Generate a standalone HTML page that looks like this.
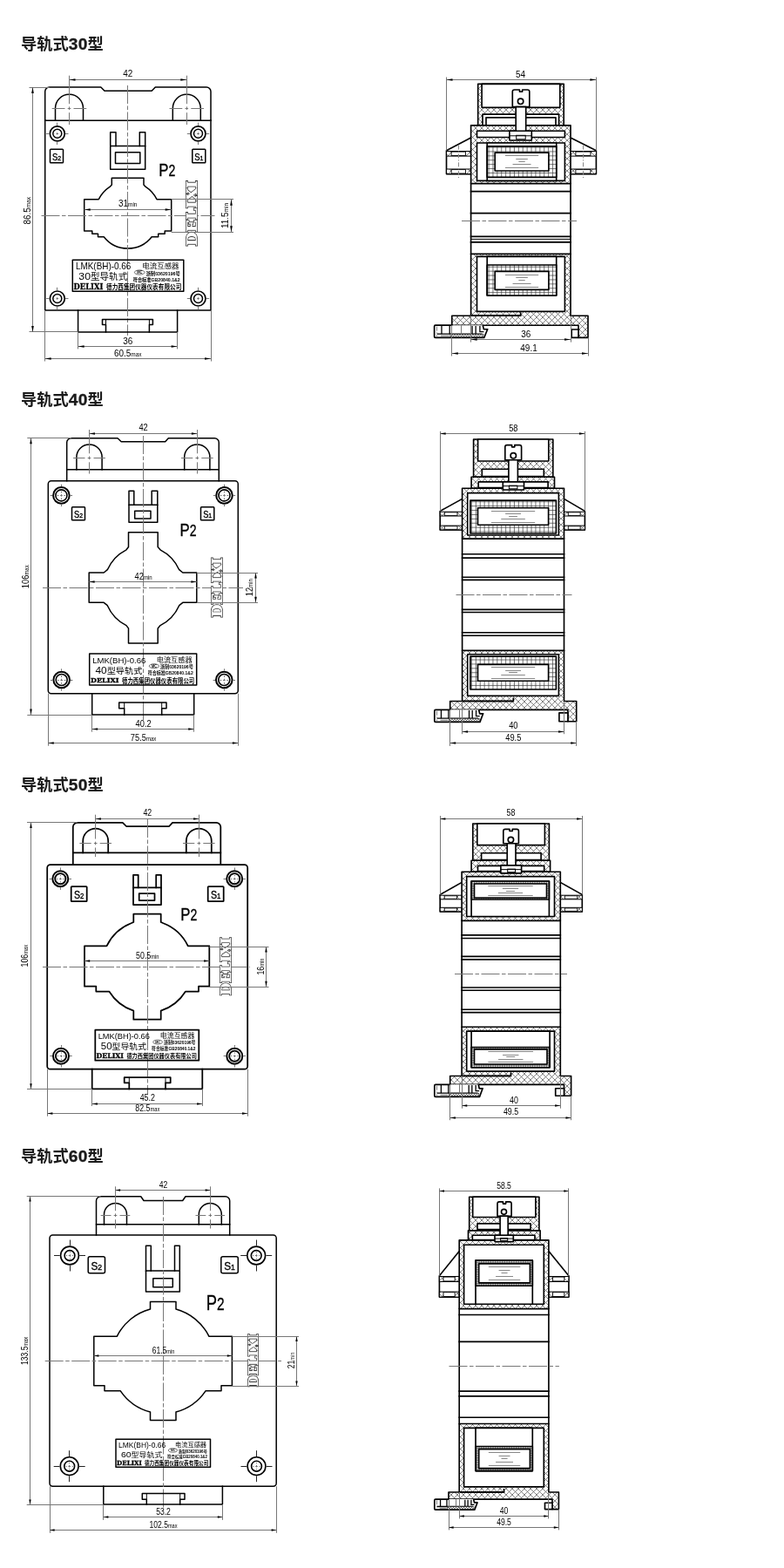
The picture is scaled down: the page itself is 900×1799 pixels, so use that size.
<!DOCTYPE html>
<html lang="zh-CN"><head><meta charset="utf-8"><title>导轨式电流互感器外形尺寸</title>
<style>
html,body{margin:0;padding:0;background:#fff}
body{width:900px;height:1799px;position:relative;overflow:hidden;font-family:"Liberation Sans","Noto Sans CJK SC",sans-serif}
h2{position:absolute;left:23.6px;margin:0;font-size:18.3px;line-height:26px;font-weight:bold;color:#1a1a1a;white-space:nowrap;font-family:"Liberation Sans","Noto Sans CJK SC",sans-serif}
h2 b{font-size:19.2px;font-weight:bold;letter-spacing:.2px;-webkit-text-stroke:.3px #1a1a1a}
svg{position:absolute;left:0;top:0}
svg,h2{will-change:transform}
.k{stroke:#000;stroke-width:1.5;fill:none;stroke-linejoin:round;stroke-linecap:square}
.kw{stroke:#000;stroke-width:1.4;fill:#fff;stroke-linejoin:round}
.kw2{stroke:#000;stroke-width:.9;fill:#fff}
.k2{stroke:#000;stroke-width:1;fill:none}
.k3{stroke:#000;stroke-width:1.3;fill:none}
.sb{stroke:#000;stroke-width:.35}
.m{stroke:#000;stroke-width:1.3;fill:none}
.t{stroke:#777;stroke-width:1;fill:none}
.t3{stroke:#333;stroke-width:.7;fill:none}
.td{stroke:#222;stroke-width:1;fill:none}
.m50 .k{stroke-width:1.75}
.sv .k,.sv .kw{stroke-width:1.65}
.t2{stroke:#888;stroke-width:1;fill:none}
.c{stroke:#777;stroke-width:1;fill:none;stroke-dasharray:21 2.5 4.5 2.5}
.cb{stroke:#111;stroke-width:1.3;fill:none;stroke-dasharray:16 2.5 3.5 2.5}
.c2{stroke:#888;stroke-width:1;fill:none;stroke-dasharray:5 1.8 1.2 1.8}
.a{fill:#000;stroke:none}
text{font-family:"Liberation Sans","Noto Sans CJK SC",sans-serif;fill:#000}
.d{font-weight:normal}
.lb{font-weight:normal}
.lbb{font-weight:bold}
.lbs{stroke:#000;stroke-width:.3;font-family:"DejaVu Serif","Liberation Serif",serif;font-weight:bold}
.ol{font-family:"DejaVu Serif","Liberation Serif",serif;font-weight:bold;fill:#fff;stroke:#555;stroke-width:.8}
.ol1{fill:none;stroke:#3a3a3a;stroke-width:2;stroke-linejoin:miter}
.ol2{fill:#fff;stroke:#fff;stroke-width:.4;stroke-linejoin:miter}
</style></head>
<body>
<h2 style="top:37.6px">导轨式<b>30</b>型</h2>
<h2 style="top:445.6px">导轨式<b>40</b>型</h2>
<h2 style="top:887.6px">导轨式<b>50</b>型</h2>
<h2 style="top:1313.6px">导轨式<b>60</b>型</h2>
<svg width="900" height="1799" viewBox="0 0 900 1799">
<defs>
<pattern id="hx" width="7" height="7" patternUnits="userSpaceOnUse"><rect width="7" height="7" fill="#fff"/><path d="M0 0L7 7M7 0L0 7" stroke="#444" stroke-width=".65" fill="none"/></pattern>
<pattern id="hx2" width="3" height="3" patternUnits="userSpaceOnUse"><rect width="3" height="3" fill="#fff"/><path d="M0 0L3 3M3 0L0 3" stroke="#333" stroke-width=".6" fill="none"/></pattern>
<pattern id="hg" width="4.9" height="4.9" patternUnits="userSpaceOnUse"><rect width="4.9" height="4.9" fill="#fff"/><path d="M0 2.4H4.9M2.4 0V4.9" stroke="#333" stroke-width=".7" fill="none"/></pattern>
<pattern id="hg2" width="1.6" height="1.6" patternUnits="userSpaceOnUse"><rect width="1.6" height="1.6" fill="#fff"/><path d="M0 .4H1.6M.4 0V1.6" stroke="#333" stroke-width=".5" fill="none"/></pattern>
</defs>
<g class="m30">
<path class="k" d="M51.7 138.3L51.7 105A5 5 0 0 1 56.7 100L115.8 100L120 104.2L174.2 104.2L178.3 100L237 100A5 5 0 0 1 242 105L242 138.3"/>
<path class="k" d="M51.7 138.3L51.7 355.5Q51.7 356 52.2 356L241.5 356Q242 356 242 355.5L242 138.3"/>
<path class="k" d="M51.7 138.3L242 138.3"/>
<path class="k" d="M63.5 138.3L63.5 124.3A16 16 0 0 1 95.5 124.3L95.5 138.3"/>
<path class="t" d="M77.7 124.5L81.3 124.5"/>
<path class="t" d="M79.5 122.4L79.5 126"/>
<path class="t" d="M59.7 124.5L74.5 124.5"/>
<path class="t" d="M84.5 124.5L99.3 124.5"/>
<path class="t" d="M79.5 86.7L79.5 119.2"/>
<path class="t" d="M79.5 129.2L79.5 143.1"/>
<path class="k" d="M198.3 138.3L198.3 124.3A16 16 0 0 1 230.3 124.3L230.3 138.3"/>
<path class="t" d="M212.5 124.5L216.1 124.5"/>
<path class="t" d="M214.5 122.4L214.5 126"/>
<path class="t" d="M194.5 124.5L209.3 124.5"/>
<path class="t" d="M219.3 124.5L234.1 124.5"/>
<path class="t" d="M214.5 86.7L214.5 119.2"/>
<path class="t" d="M214.5 129.2L214.5 143.1"/>
<circle class="k" cx="65.8" cy="153.3" r="8.5" style="stroke-width:1.7"/>
<circle class="k" cx="65.8" cy="153.3" r="5" style="stroke-width:1.5"/>
<path class="t" d="M53.1 153.5L56.45 153.5"/>
<path class="t" d="M75.15 153.5L78.5 153.5"/>
<path class="t" d="M65.5 140.6L65.5 143.95"/>
<path class="t" d="M65.5 162.65L65.5 166"/>
<path class="t" d="M62.55 153.5L62.8 153.5"/>
<path class="t" d="M68.8 153.5L69.05 153.5"/>
<path class="t" d="M65.5 150.05L65.5 150.3"/>
<path class="t" d="M65.5 156.3L65.5 156.55"/>
<path class="t" d="M64.5 153.5L67.1 153.5"/>
<path class="t" d="M65.5 152L65.5 154.6"/>
<circle class="k" cx="227.5" cy="153.3" r="8.5" style="stroke-width:1.7"/>
<circle class="k" cx="227.5" cy="153.3" r="5" style="stroke-width:1.5"/>
<path class="t" d="M214.8 153.5L218.15 153.5"/>
<path class="t" d="M236.85 153.5L240.2 153.5"/>
<path class="t" d="M227.5 140.6L227.5 143.95"/>
<path class="t" d="M227.5 162.65L227.5 166"/>
<path class="t" d="M224.25 153.5L224.5 153.5"/>
<path class="t" d="M230.5 153.5L230.75 153.5"/>
<path class="t" d="M227.5 150.05L227.5 150.3"/>
<path class="t" d="M227.5 156.3L227.5 156.55"/>
<path class="t" d="M226.2 153.5L228.8 153.5"/>
<path class="t" d="M227.5 152L227.5 154.6"/>
<circle class="k" cx="65.8" cy="342.5" r="8.5" style="stroke-width:1.7"/>
<circle class="k" cx="65.8" cy="342.5" r="5" style="stroke-width:1.5"/>
<path class="t" d="M53.1 342.5L56.45 342.5"/>
<path class="t" d="M75.15 342.5L78.5 342.5"/>
<path class="t" d="M65.5 329.8L65.5 333.15"/>
<path class="t" d="M65.5 351.85L65.5 355.2"/>
<path class="t" d="M62.55 342.5L62.8 342.5"/>
<path class="t" d="M68.8 342.5L69.05 342.5"/>
<path class="t" d="M65.5 339.25L65.5 339.5"/>
<path class="t" d="M65.5 345.5L65.5 345.75"/>
<path class="t" d="M64.5 342.5L67.1 342.5"/>
<path class="t" d="M65.5 341.2L65.5 343.8"/>
<circle class="k" cx="227.5" cy="342.5" r="8.5" style="stroke-width:1.7"/>
<circle class="k" cx="227.5" cy="342.5" r="5" style="stroke-width:1.5"/>
<path class="t" d="M214.8 342.5L218.15 342.5"/>
<path class="t" d="M236.85 342.5L240.2 342.5"/>
<path class="t" d="M227.5 329.8L227.5 333.15"/>
<path class="t" d="M227.5 351.85L227.5 355.2"/>
<path class="t" d="M224.25 342.5L224.5 342.5"/>
<path class="t" d="M230.5 342.5L230.75 342.5"/>
<path class="t" d="M227.5 339.25L227.5 339.5"/>
<path class="t" d="M227.5 345.5L227.5 345.75"/>
<path class="t" d="M226.2 342.5L228.8 342.5"/>
<path class="t" d="M227.5 341.2L227.5 343.8"/>
<rect class="k" x="57.5" y="171.3" width="15" height="15.4" rx="0.8"/>
<text class="d sb" transform="translate(65 183.62) scale(.88 1)" font-size="10.78" text-anchor="middle">S<tspan font-size="7.98">2</tspan></text>
<rect class="k" x="220.8" y="171.3" width="15" height="15.4" rx="0.8"/>
<text class="d sb" transform="translate(228.3 183.62) scale(.88 1)" font-size="10.78" text-anchor="middle">S<tspan font-size="7.98">1</tspan></text>
<path class="k" d="M126.7 167.5L126.7 151.7L133 151.7L133 167.5M160.3 167.5L160.3 151.7L166.7 151.7L166.7 167.5"/>
<rect class="k" x="126.7" y="167.5" width="40" height="26.7"/>
<rect class="k" x="132.5" y="174.7" width="28.3" height="12.8"/>
<text class="d sb" transform="translate(182.3 201.7) scale(.8 1)" font-size="21">P<tspan font-size="17.64">2</tspan></text>
<path class="k" d="M128.3 204.2H165V212L167 214.2A38 38 0 0 1 180 228.7H196.7V265H189.2V268.3H181.7V271.7H174.2A35 35 0 0 1 119.2 271.7H112.5V268.3H105.8V265H96.7V228.7H113.3A38 38 0 0 1 126.3 214.2L128.3 212Z"/>
<path class="c" d="M146.5 98L146.5 385"/>
<path class="c" d="M47.5 247.5L246.5 247.5"/>
<text class="ol ol1" x="226.5" y="282.3" font-size="17.42" textLength="75.1" lengthAdjust="spacingAndGlyphs" transform="rotate(-90 226.5 282.3)">DELIXI</text>
<text class="ol ol2" x="226.5" y="282.3" font-size="17.42" textLength="75.1" lengthAdjust="spacingAndGlyphs" transform="rotate(-90 226.5 282.3)">DELIXI</text>
<rect class="k" x="83.3" y="298.3" width="127.5" height="35.9"/>
<text class="lb" x="86.9" y="309.3" font-size="10.2" textLength="63.5" lengthAdjust="spacingAndGlyphs">LMK(BH)-0.66</text>
<text class="lb" x="163.2" y="307.9" font-size="8" textLength="42.4" lengthAdjust="spacingAndGlyphs">电流互感器</text>
<text class="lb" x="90.3" y="321.3" font-size="11.4" textLength="55.9" lengthAdjust="spacingAndGlyphs">30<tspan font-size="9.8">型导轨式</tspan></text>
<ellipse class="t3" cx="160.2" cy="312.5" rx="5.8" ry="2.6"/>
<text class="lbb" x="157.2" y="314.2" font-size="4.6" textLength="6.2" lengthAdjust="spacingAndGlyphs">MC</text>
<text class="lbb" x="167.7" y="315.5" font-size="5.6" textLength="39" lengthAdjust="spacingAndGlyphs">浙制03620196号</text>
<text class="lbb" x="152.7" y="322.7" font-size="6" textLength="54" lengthAdjust="spacingAndGlyphs">符合标准GB20840.1&amp;2</text>
<text class="lbs" x="84.6" y="331.7" font-size="8.3" textLength="33.7" lengthAdjust="spacingAndGlyphs">DELIXI</text>
<text class="lbb" x="122" y="331.9" font-size="7.8" textLength="86.3" lengthAdjust="spacingAndGlyphs">德力西集团仪器仪表有限公司</text>
<path class="k" d="M89.6 356L89.6 380.9L203.6 380.9L203.6 356"/>
<path class="k" d="M121.5 380.9L121.5 372.5L117.5 372.5L117.5 366.5L175.4 366.5L175.4 372.5L171.4 372.5L171.4 380.9"/>
<path class="k2" d="M121.5 366.5L121.5 372.5"/>
<path class="k2" d="M171.4 366.5L171.4 372.5"/>
<path class="t" d="M79.5 91.5L214.3 91.5"/>
<path class="a" d="M79.5 91.5L86.5 90.15L86.5 92.85Z"/>
<path class="a" d="M214.3 91.5L207.3 92.85L207.3 90.15Z"/>
<text class="d" font-size="11.6" text-anchor="middle" transform="translate(146.7 88) scale(0.86 1)">42</text>
<path class="t" d="M33.5 100.5L56.7 100.5"/>
<path class="t" d="M33.5 380.5L89.6 380.5"/>
<path class="t" d="M37.5 100L37.5 380.9"/>
<path class="a" d="M37.5 100L38.85 107L36.15 107Z"/>
<path class="a" d="M37.5 380.9L36.15 373.9L38.85 373.9Z"/>
<text class="d" font-size="11.6" text-anchor="middle" transform="translate(34.5 241.7) rotate(-90) scale(0.86 1)">86.5<tspan font-size="7.54">max</tspan></text>
<path class="t" d="M96.7 240.5L196.7 240.5"/>
<path class="a" d="M96.7 240.5L103.7 239.15L103.7 241.85Z"/>
<path class="a" d="M196.7 240.5L189.7 241.85L189.7 239.15Z"/>
<text class="d" font-size="11.6" text-anchor="middle" transform="translate(146.7 237.3) scale(0.86 1)">31<tspan font-size="7.54">min</tspan></text>
<path class="t" d="M196.7 228.5L268 228.5"/>
<path class="t" d="M196.7 266.5L268 266.5"/>
<path class="t" d="M265.5 228.7L265.5 266.3"/>
<path class="a" d="M265.5 228.7L266.85 235.7L264.15 235.7Z"/>
<path class="a" d="M265.5 266.3L264.15 259.3L266.85 259.3Z"/>
<text class="d" font-size="11.6" text-anchor="middle" transform="translate(262.3 247.5) rotate(-90) scale(0.86 1)">11.5<tspan font-size="7.54">min</tspan></text>
<path class="t" d="M89.5 380.9L89.5 400.4"/>
<path class="t" d="M203.5 380.9L203.5 400.4"/>
<path class="t" d="M89.6 397.5L203.6 397.5"/>
<path class="a" d="M89.6 397.5L96.6 396.15L96.6 398.85Z"/>
<path class="a" d="M203.6 397.5L196.6 398.85L196.6 396.15Z"/>
<text class="d" font-size="11.6" text-anchor="middle" transform="translate(146.7 394.6) scale(0.86 1)">36</text>
<path class="t" d="M51.5 356L51.5 414.5"/>
<path class="t" d="M242.5 356L242.5 414.5"/>
<path class="t" d="M51.7 411.5L242 411.5"/>
<path class="a" d="M51.7 411.5L58.7 410.15L58.7 412.85Z"/>
<path class="a" d="M242 411.5L235 412.85L235 410.15Z"/>
<text class="d" font-size="11.6" text-anchor="middle" transform="translate(146.7 408.7) scale(0.86 1)">60.5<tspan font-size="7.54">max</tspan></text>
</g>
<g class="m40">
<path class="k" d="M76.7 551.7L76.7 507.8A5 5 0 0 1 81.7 502.8L135 502.8L139.2 506.7L189.7 506.7L193.3 502.8L246.3 502.8A5 5 0 0 1 251.3 507.8L251.3 551.7"/>
<path class="k" d="M76.7 538.7L251.3 538.7"/>
<rect class="k" x="55.3" y="551.7" width="218" height="244" rx="3.5"/>
<path class="k" d="M87.9 538.7L87.9 524.6A14.6 14.6 0 0 1 117.1 524.6L117.1 538.7"/>
<path class="t" d="M100.7 525.5L104.3 525.5"/>
<path class="t" d="M102.5 523.5L102.5 527.1"/>
<path class="t" d="M84.1 525.5L97.5 525.5"/>
<path class="t" d="M107.5 525.5L120.9 525.5"/>
<path class="t" d="M102.5 493L102.5 520.3"/>
<path class="t" d="M102.5 530.3L102.5 543.5"/>
<path class="k" d="M211.7 538.7L211.7 524.6A14.6 14.6 0 0 1 240.9 524.6L240.9 538.7"/>
<path class="t" d="M224.5 525.5L228.1 525.5"/>
<path class="t" d="M226.5 523.5L226.5 527.1"/>
<path class="t" d="M207.9 525.5L221.3 525.5"/>
<path class="t" d="M231.3 525.5L244.7 525.5"/>
<path class="t" d="M226.5 493L226.5 520.3"/>
<path class="t" d="M226.5 530.3L226.5 543.5"/>
<circle class="k" cx="70.4" cy="568.4" r="9.3" style="stroke-width:2"/>
<circle class="k" cx="70.4" cy="568.4" r="6.5" style="stroke-width:1.6"/>
<path class="t" d="M57.7 568.5L60.1 568.5"/>
<path class="t" d="M80.7 568.5L83.1 568.5"/>
<path class="t" d="M70.5 555.7L70.5 558.1"/>
<path class="t" d="M70.5 578.7L70.5 581.1"/>
<path class="t" d="M65.7 568.5L67.4 568.5"/>
<path class="t" d="M73.4 568.5L75.1 568.5"/>
<path class="t" d="M70.5 563.7L70.5 565.4"/>
<path class="t" d="M70.5 571.4L70.5 573.1"/>
<path class="t" d="M69.1 568.5L71.7 568.5"/>
<path class="t" d="M70.5 567.1L70.5 569.7"/>
<circle class="k" cx="257.5" cy="568.4" r="9.3" style="stroke-width:2"/>
<circle class="k" cx="257.5" cy="568.4" r="6.5" style="stroke-width:1.6"/>
<path class="t" d="M244.8 568.5L247.2 568.5"/>
<path class="t" d="M267.8 568.5L270.2 568.5"/>
<path class="t" d="M257.5 555.7L257.5 558.1"/>
<path class="t" d="M257.5 578.7L257.5 581.1"/>
<path class="t" d="M252.8 568.5L254.5 568.5"/>
<path class="t" d="M260.5 568.5L262.2 568.5"/>
<path class="t" d="M257.5 563.7L257.5 565.4"/>
<path class="t" d="M257.5 571.4L257.5 573.1"/>
<path class="t" d="M256.2 568.5L258.8 568.5"/>
<path class="t" d="M257.5 567.1L257.5 569.7"/>
<circle class="k" cx="70.7" cy="780" r="9.3" style="stroke-width:2"/>
<circle class="k" cx="70.7" cy="780" r="6.5" style="stroke-width:1.6"/>
<path class="t" d="M58 780.5L60.4 780.5"/>
<path class="t" d="M81 780.5L83.4 780.5"/>
<path class="t" d="M70.5 767.3L70.5 769.7"/>
<path class="t" d="M70.5 790.3L70.5 792.7"/>
<path class="t" d="M66 780.5L67.7 780.5"/>
<path class="t" d="M73.7 780.5L75.4 780.5"/>
<path class="t" d="M70.5 775.3L70.5 777"/>
<path class="t" d="M70.5 783L70.5 784.7"/>
<path class="t" d="M69.4 780.5L72 780.5"/>
<path class="t" d="M70.5 778.7L70.5 781.3"/>
<circle class="k" cx="257.3" cy="780" r="9.3" style="stroke-width:2"/>
<circle class="k" cx="257.3" cy="780" r="6.5" style="stroke-width:1.6"/>
<path class="t" d="M244.6 780.5L247 780.5"/>
<path class="t" d="M267.6 780.5L270 780.5"/>
<path class="t" d="M257.5 767.3L257.5 769.7"/>
<path class="t" d="M257.5 790.3L257.5 792.7"/>
<path class="t" d="M252.6 780.5L254.3 780.5"/>
<path class="t" d="M260.3 780.5L262 780.5"/>
<path class="t" d="M257.5 775.3L257.5 777"/>
<path class="t" d="M257.5 783L257.5 784.7"/>
<path class="t" d="M256 780.5L258.6 780.5"/>
<path class="t" d="M257.5 778.7L257.5 781.3"/>
<rect class="k" x="82.5" y="581.7" width="15" height="15" rx="0.8"/>
<text class="d sb" transform="translate(90 593.7) scale(.88 1)" font-size="10.5" text-anchor="middle">S<tspan font-size="7.77">2</tspan></text>
<rect class="k" x="230.5" y="581.7" width="15.3" height="15" rx="0.8"/>
<text class="d sb" transform="translate(238.15 593.7) scale(.88 1)" font-size="10.5" text-anchor="middle">S<tspan font-size="7.77">1</tspan></text>
<path class="k" d="M148 579.2L148 563.3L153.8 563.3L153.8 579.2M174.2 579.2L174.2 563.3L180.8 563.3L180.8 579.2"/>
<rect class="k" x="148" y="579.2" width="32.8" height="20"/>
<rect class="k" x="154.7" y="586.3" width="18.3" height="8.7"/>
<text class="d sb" transform="translate(206.5 615) scale(.8 1)" font-size="21">P<tspan font-size="17.64">2</tspan></text>
<path class="k" d="M147.5 610.8V627.5L145 630.8A47 47 0 0 0 123.3 653.7L119.2 657H102.2V691.3H119.2L123.3 694.7A47 47 0 0 0 145 717.6L147.5 720.9V738H181.2V720.9L184 717.6A47 47 0 0 0 205.7 694.7L209.8 691.3H225.8V657H209.8L205.7 653.7A47 47 0 0 0 184 630.8L181.2 627.5V610.8Z"/>
<path class="c" d="M164.5 500L164.5 828"/>
<path class="c" d="M49 674.5L279 674.5"/>
<text class="ol ol1" x="254.8" y="708.2" font-size="16.87" textLength="68.5" lengthAdjust="spacingAndGlyphs" transform="rotate(-90 254.8 708.2)">DELIXI</text>
<text class="ol ol2" x="254.8" y="708.2" font-size="16.87" textLength="68.5" lengthAdjust="spacingAndGlyphs" transform="rotate(-90 254.8 708.2)">DELIXI</text>
<rect class="k" x="102.7" y="750" width="123" height="36"/>
<text class="lb" x="106.17" y="761.03" font-size="9.84" textLength="61.26" lengthAdjust="spacingAndGlyphs">LMK(BH)-0.66</text>
<text class="lb" x="179.78" y="759.63" font-size="7.72" textLength="40.9" lengthAdjust="spacingAndGlyphs">电流互感器</text>
<text class="lb" x="109.45" y="773.06" font-size="11" textLength="53.93" lengthAdjust="spacingAndGlyphs">40<tspan font-size="9.45">型导轨式</tspan></text>
<ellipse class="t3" cx="176.89" cy="764.24" rx="5.6" ry="2.51"/>
<text class="lbb" x="173.99" y="765.94" font-size="4.44" textLength="5.98" lengthAdjust="spacingAndGlyphs">MC</text>
<text class="lbb" x="184.12" y="767.25" font-size="5.4" textLength="37.62" lengthAdjust="spacingAndGlyphs">浙制03620196号</text>
<text class="lbb" x="169.65" y="774.47" font-size="5.79" textLength="52.09" lengthAdjust="spacingAndGlyphs">符合标准GB20840.1&amp;2</text>
<text class="lbs" x="103.95" y="783.49" font-size="8.01" textLength="32.51" lengthAdjust="spacingAndGlyphs">DELIXI</text>
<text class="lbb" x="140.03" y="783.69" font-size="7.52" textLength="83.25" lengthAdjust="spacingAndGlyphs">德力西集团仪器仪表有限公司</text>
<path class="k" d="M105.7 795.7L105.7 820L222.7 820L222.7 795.7"/>
<path class="k" d="M142.7 820L142.7 812.7L136.7 812.7L136.7 806L191 806L191 812.7L185.7 812.7L185.7 820"/>
<path class="k2" d="M142.7 806L142.7 812.7"/>
<path class="k2" d="M185.7 806L185.7 812.7"/>
<path class="t" d="M102.5 497.5L226.3 497.5"/>
<path class="a" d="M102.5 497.5L108.94 496.2L108.94 498.8Z"/>
<path class="a" d="M226.3 497.5L219.86 498.8L219.86 496.2Z"/>
<text class="d" font-size="10.8" text-anchor="middle" transform="translate(164.6 494.3) scale(0.86 1)">42</text>
<path class="t" d="M31.3 502.5L81.7 502.5"/>
<path class="t" d="M31.3 820.5L105.7 820.5"/>
<path class="t" d="M35.5 502.8L35.5 820"/>
<path class="a" d="M35.5 502.8L36.8 509.24L34.2 509.24Z"/>
<path class="a" d="M35.5 820L34.2 813.56L36.8 813.56Z"/>
<text class="d" font-size="10.8" text-anchor="middle" transform="translate(32.5 661.7) rotate(-90) scale(0.86 1)">106<tspan font-size="7.02">max</tspan></text>
<path class="t" d="M102.2 667.5L225.8 667.5"/>
<path class="a" d="M102.2 667.5L108.64 666.2L108.64 668.8Z"/>
<path class="a" d="M225.8 667.5L219.36 668.8L219.36 666.2Z"/>
<text class="d" font-size="10.8" text-anchor="middle" transform="translate(164.6 664.5) scale(0.86 1)">42<tspan font-size="7.02">min</tspan></text>
<path class="t" d="M225.8 657.5L296 657.5"/>
<path class="t" d="M225.8 691.5L296 691.5"/>
<path class="t" d="M293.5 657L293.5 691.3"/>
<path class="a" d="M293.5 657L294.8 663.44L292.2 663.44Z"/>
<path class="a" d="M293.5 691.3L292.2 684.86L294.8 684.86Z"/>
<text class="d" font-size="10.8" text-anchor="middle" transform="translate(290 674.2) rotate(-90) scale(0.86 1)">12<tspan font-size="7.02">min</tspan></text>
<path class="t" d="M105.5 820L105.5 839.7"/>
<path class="t" d="M222.5 820L222.5 839.7"/>
<path class="t" d="M105.7 836.5L222.7 836.5"/>
<path class="a" d="M105.7 836.5L112.14 835.2L112.14 837.8Z"/>
<path class="a" d="M222.7 836.5L216.26 837.8L216.26 835.2Z"/>
<text class="d" font-size="10.8" text-anchor="middle" transform="translate(164.6 833.9) scale(0.86 1)">40.2</text>
<path class="t" d="M55.5 795.7L55.5 855.7"/>
<path class="t" d="M273.5 795.7L273.5 855.7"/>
<path class="t" d="M55.3 852.5L273.3 852.5"/>
<path class="a" d="M55.3 852.5L61.74 851.2L61.74 853.8Z"/>
<path class="a" d="M273.3 852.5L266.86 853.8L266.86 851.2Z"/>
<text class="d" font-size="10.8" text-anchor="middle" transform="translate(164.6 849.9) scale(0.86 1)">75.5<tspan font-size="7.02">max</tspan></text>
</g>
<g class="m50">
<path class="k" d="M83.8 992.2L83.8 948.8A5 5 0 0 1 88.8 943.8L140.8 943.8L145 948L194.2 948L198 943.8L248.3 943.8A5 5 0 0 1 253.3 948.8L253.3 992.2"/>
<path class="k" d="M83.8 978.3L253.3 978.3"/>
<rect class="k" x="54.2" y="992.2" width="230" height="234.5" rx="3.5"/>
<path class="k" d="M95.2 978.3L95.2 965A14.5 14.5 0 0 1 124.2 965L124.2 978.3"/>
<path class="t" d="M107.9 967.5L111.5 967.5"/>
<path class="t" d="M109.5 965.7L109.5 969.3"/>
<path class="t" d="M91.4 967.5L104.7 967.5"/>
<path class="t" d="M114.7 967.5L128 967.5"/>
<path class="t" d="M109.5 934.7L109.5 962.5"/>
<path class="t" d="M109.5 972.5L109.5 983.1"/>
<path class="k" d="M213.8 978.3L213.8 965A14.5 14.5 0 0 1 242.8 965L242.8 978.3"/>
<path class="t" d="M226.5 967.5L230.1 967.5"/>
<path class="t" d="M228.5 965.7L228.5 969.3"/>
<path class="t" d="M210 967.5L223.3 967.5"/>
<path class="t" d="M233.3 967.5L246.6 967.5"/>
<path class="t" d="M228.5 934.7L228.5 962.5"/>
<path class="t" d="M228.5 972.5L228.5 983.1"/>
<circle class="k" cx="69.3" cy="1008.2" r="9" style="stroke-width:2"/>
<circle class="k" cx="69.3" cy="1008.2" r="6.1" style="stroke-width:1.9"/>
<path class="t" d="M56.6 1008.5L59.3 1008.5"/>
<path class="t" d="M79.3 1008.5L82 1008.5"/>
<path class="t" d="M69.5 995.5L69.5 998.2"/>
<path class="t" d="M69.5 1018.2L69.5 1020.9"/>
<path class="t" d="M65.15 1008.5L66.3 1008.5"/>
<path class="t" d="M72.3 1008.5L73.45 1008.5"/>
<path class="t" d="M69.5 1004.05L69.5 1005.2"/>
<path class="t" d="M69.5 1011.2L69.5 1012.35"/>
<path class="t" d="M68 1008.5L70.6 1008.5"/>
<path class="t" d="M69.5 1006.9L69.5 1009.5"/>
<circle class="k" cx="269.2" cy="1008.2" r="9" style="stroke-width:2"/>
<circle class="k" cx="269.2" cy="1008.2" r="6.1" style="stroke-width:1.9"/>
<path class="t" d="M256.5 1008.5L259.2 1008.5"/>
<path class="t" d="M279.2 1008.5L281.9 1008.5"/>
<path class="t" d="M269.5 995.5L269.5 998.2"/>
<path class="t" d="M269.5 1018.2L269.5 1020.9"/>
<path class="t" d="M265.05 1008.5L266.2 1008.5"/>
<path class="t" d="M272.2 1008.5L273.35 1008.5"/>
<path class="t" d="M269.5 1004.05L269.5 1005.2"/>
<path class="t" d="M269.5 1011.2L269.5 1012.35"/>
<path class="t" d="M267.9 1008.5L270.5 1008.5"/>
<path class="t" d="M269.5 1006.9L269.5 1009.5"/>
<circle class="k" cx="70" cy="1211.7" r="9" style="stroke-width:2"/>
<circle class="k" cx="70" cy="1211.7" r="6.1" style="stroke-width:1.9"/>
<path class="t" d="M57.3 1211.5L60 1211.5"/>
<path class="t" d="M80 1211.5L82.7 1211.5"/>
<path class="t" d="M70.5 1199L70.5 1201.7"/>
<path class="t" d="M70.5 1221.7L70.5 1224.4"/>
<path class="t" d="M65.85 1211.5L67 1211.5"/>
<path class="t" d="M73 1211.5L74.15 1211.5"/>
<path class="t" d="M70.5 1207.55L70.5 1208.7"/>
<path class="t" d="M70.5 1214.7L70.5 1215.85"/>
<path class="t" d="M68.7 1211.5L71.3 1211.5"/>
<path class="t" d="M70.5 1210.4L70.5 1213"/>
<circle class="k" cx="269.3" cy="1211.7" r="9" style="stroke-width:2"/>
<circle class="k" cx="269.3" cy="1211.7" r="6.1" style="stroke-width:1.9"/>
<path class="t" d="M256.6 1211.5L259.3 1211.5"/>
<path class="t" d="M279.3 1211.5L282 1211.5"/>
<path class="t" d="M269.5 1199L269.5 1201.7"/>
<path class="t" d="M269.5 1221.7L269.5 1224.4"/>
<path class="t" d="M265.15 1211.5L266.3 1211.5"/>
<path class="t" d="M272.3 1211.5L273.45 1211.5"/>
<path class="t" d="M269.5 1207.55L269.5 1208.7"/>
<path class="t" d="M269.5 1214.7L269.5 1215.85"/>
<path class="t" d="M268 1211.5L270.6 1211.5"/>
<path class="t" d="M269.5 1210.4L269.5 1213"/>
<rect class="k" x="81.7" y="1017" width="18" height="17.2" rx="0.8"/>
<text class="d sb" transform="translate(90.7 1030.76) scale(.88 1)" font-size="12.04" text-anchor="middle">S<tspan font-size="8.91">2</tspan></text>
<rect class="k" x="238.7" y="1017" width="18" height="17.2" rx="0.8"/>
<text class="d sb" transform="translate(247.7 1030.76) scale(.88 1)" font-size="12.04" text-anchor="middle">S<tspan font-size="8.91">1</tspan></text>
<path class="k" d="M153 1018.3L153 1003.8L158.7 1003.8L158.7 1018.3M179.2 1018.3L179.2 1003.8L185 1003.8L185 1018.3"/>
<rect class="k" x="153" y="1018.3" width="32" height="19.7"/>
<rect class="k" x="159.7" y="1025" width="17.8" height="8"/>
<text class="d sb" transform="translate(207.3 1056.3) scale(.8 1)" font-size="21">P<tspan font-size="17.64">2</tspan></text>
<path class="k" d="M153.3 1048.7V1058L150.5 1059.3A53 53 0 0 0 122.5 1085.3H97V1131.7H110.3V1137.5H125.3A53 53 0 0 0 153.3 1159.7V1169.7H184.7V1159.7A53 53 0 0 0 213 1137.5H228V1131.7H240.3V1085.3H215.8A53 53 0 0 0 187.5 1059.3L184.7 1058V1048.7Z"/>
<path class="c" d="M169.5 940L169.5 1256"/>
<path class="c" d="M49 1109.5L286.7 1109.5"/>
<text class="ol ol1" x="265.3" y="1142" font-size="15.78" textLength="66.5" lengthAdjust="spacingAndGlyphs" transform="rotate(-90 265.3 1142)">DELIXI</text>
<text class="ol ol2" x="265.3" y="1142" font-size="15.78" textLength="66.5" lengthAdjust="spacingAndGlyphs" transform="rotate(-90 265.3 1142)">DELIXI</text>
<rect class="k" x="109.3" y="1181.7" width="119" height="35"/>
<text class="lb" x="112.66" y="1192.42" font-size="9.52" textLength="59.27" lengthAdjust="spacingAndGlyphs">LMK(BH)-0.66</text>
<text class="lb" x="183.87" y="1191.06" font-size="7.47" textLength="39.57" lengthAdjust="spacingAndGlyphs">电流互感器</text>
<text class="lb" x="115.83" y="1204.12" font-size="10.64" textLength="52.17" lengthAdjust="spacingAndGlyphs">50<tspan font-size="9.15">型导轨式</tspan></text>
<ellipse class="t3" cx="181.07" cy="1195.54" rx="5.41" ry="2.43"/>
<text class="lbb" x="178.27" y="1197.2" font-size="4.29" textLength="5.79" lengthAdjust="spacingAndGlyphs">MC</text>
<text class="lbb" x="188.07" y="1198.47" font-size="5.23" textLength="36.4" lengthAdjust="spacingAndGlyphs">浙制03620196号</text>
<text class="lbb" x="174.07" y="1205.49" font-size="5.6" textLength="50.4" lengthAdjust="spacingAndGlyphs">符合标准GB20840.1&amp;2</text>
<text class="lbs" x="110.51" y="1214.26" font-size="7.75" textLength="31.45" lengthAdjust="spacingAndGlyphs">DELIXI</text>
<text class="lbb" x="145.42" y="1214.46" font-size="7.28" textLength="80.55" lengthAdjust="spacingAndGlyphs">德力西集团仪器仪表有限公司</text>
<path class="k" d="M105.7 1226.7L105.7 1249.3L232.3 1249.3L232.3 1226.7"/>
<path class="k" d="M148.3 1249.3L148.3 1242.3L142.7 1242.3L142.7 1236L195.7 1236L195.7 1242.3L190 1242.3L190 1249.3"/>
<path class="k2" d="M148.3 1236L148.3 1242.3"/>
<path class="k2" d="M190 1236L190 1242.3"/>
<path class="t" d="M109.7 939.5L228.3 939.5"/>
<path class="a" d="M109.7 939.5L115.86 938.23L115.86 940.77Z"/>
<path class="a" d="M228.3 939.5L222.14 940.77L222.14 938.23Z"/>
<text class="d" font-size="10.3" text-anchor="middle" transform="translate(169.3 936) scale(0.86 1)">42</text>
<path class="t" d="M31 943.5L88.8 943.5"/>
<path class="t" d="M31 1249.5L105.7 1249.5"/>
<path class="t" d="M35.5 943.8L35.5 1249.3"/>
<path class="a" d="M35.5 943.8L36.77 949.96L34.23 949.96Z"/>
<path class="a" d="M35.5 1249.3L34.23 1243.14L36.77 1243.14Z"/>
<text class="d" font-size="10.3" text-anchor="middle" transform="translate(32 1096.7) rotate(-90) scale(0.86 1)">106<tspan font-size="6.7">max</tspan></text>
<path class="t" d="M97 1102.5L240.3 1102.5"/>
<path class="a" d="M97 1102.5L103.16 1101.23L103.16 1103.77Z"/>
<path class="a" d="M240.3 1102.5L234.14 1103.77L234.14 1101.23Z"/>
<text class="d" font-size="10.3" text-anchor="middle" transform="translate(169.3 1099.5) scale(0.86 1)">50.5<tspan font-size="6.7">min</tspan></text>
<path class="t" d="M240.3 1086.5L308.5 1086.5"/>
<path class="t" d="M240.3 1132.5L308.5 1132.5"/>
<path class="t" d="M305.5 1086.3L305.5 1132"/>
<path class="a" d="M305.5 1086.3L306.77 1092.46L304.23 1092.46Z"/>
<path class="a" d="M305.5 1132L304.23 1125.84L306.77 1125.84Z"/>
<text class="d" font-size="10.3" text-anchor="middle" transform="translate(302.5 1109) rotate(-90) scale(0.86 1)">16<tspan font-size="6.7">min</tspan></text>
<path class="t" d="M105.5 1249.3L105.5 1269"/>
<path class="t" d="M232.5 1249.3L232.5 1269"/>
<path class="t" d="M105.7 1266.5L232.3 1266.5"/>
<path class="a" d="M105.7 1266.5L111.86 1265.23L111.86 1267.77Z"/>
<path class="a" d="M232.3 1266.5L226.14 1267.77L226.14 1265.23Z"/>
<text class="d" font-size="10.3" text-anchor="middle" transform="translate(169.3 1263.2) scale(0.86 1)">45.2</text>
<path class="t" d="M54.5 1226.7L54.5 1280.7"/>
<path class="t" d="M284.5 1226.7L284.5 1280.7"/>
<path class="t" d="M54.2 1277.5L284.2 1277.5"/>
<path class="a" d="M54.2 1277.5L60.36 1276.23L60.36 1278.77Z"/>
<path class="a" d="M284.2 1277.5L278.04 1278.77L278.04 1276.23Z"/>
<text class="d" font-size="10.3" text-anchor="middle" transform="translate(169.3 1274.9) scale(0.86 1)">82.5<tspan font-size="6.7">max</tspan></text>
</g>
<g class="m60">
<path class="k" d="M110.5 1417L110.5 1377.8A5 5 0 0 1 115.5 1372.8L161.7 1372.8L165 1377.5L209.7 1377.5L213 1372.8L258.7 1372.8A5 5 0 0 1 263.7 1377.8L263.7 1417"/>
<path class="k" d="M110.5 1404.7L263.7 1404.7"/>
<rect class="k" x="57" y="1417" width="260.2" height="288.3" rx="3.5"/>
<path class="k" d="M119.5 1404.7L119.5 1393.5A13 13 0 0 1 145.5 1393.5L145.5 1404.7"/>
<path class="t" d="M130.7 1394.5L134.3 1394.5"/>
<path class="t" d="M132.5 1392.4L132.5 1396"/>
<path class="t" d="M115.7 1394.5L127.5 1394.5"/>
<path class="t" d="M137.5 1394.5L149.3 1394.5"/>
<path class="t" d="M132.5 1361.3L132.5 1389.2"/>
<path class="t" d="M132.5 1399.2L132.5 1409.5"/>
<path class="k" d="M228.3 1404.7L228.3 1393.5A13 13 0 0 1 254.3 1393.5L254.3 1404.7"/>
<path class="t" d="M239.5 1394.5L243.1 1394.5"/>
<path class="t" d="M241.5 1392.4L241.5 1396"/>
<path class="t" d="M224.5 1394.5L236.3 1394.5"/>
<path class="t" d="M246.3 1394.5L258.1 1394.5"/>
<path class="t" d="M241.5 1361.3L241.5 1389.2"/>
<path class="t" d="M241.5 1399.2L241.5 1409.5"/>
<circle class="k" cx="80" cy="1440.5" r="10.4" style="stroke-width:1.6"/>
<circle class="k" cx="80" cy="1440.5" r="5.9" style="stroke-width:1.6"/>
<path class="td" d="M62 1440.5L68.8 1440.5"/>
<path class="td" d="M91.2 1440.5L98 1440.5"/>
<path class="td" d="M80.5 1422.5L80.5 1429.3"/>
<path class="td" d="M80.5 1451.7L80.5 1458.5"/>
<path class="t" d="M75.9 1440.5L77 1440.5"/>
<path class="t" d="M83 1440.5L84.1 1440.5"/>
<path class="t" d="M80.5 1436.4L80.5 1437.5"/>
<path class="t" d="M80.5 1443.5L80.5 1444.6"/>
<path class="t" d="M78.7 1440.5L81.3 1440.5"/>
<path class="t" d="M80.5 1439.2L80.5 1441.8"/>
<circle class="k" cx="294.2" cy="1440.5" r="10.4" style="stroke-width:1.6"/>
<circle class="k" cx="294.2" cy="1440.5" r="5.9" style="stroke-width:1.6"/>
<path class="td" d="M276.2 1440.5L283 1440.5"/>
<path class="td" d="M305.4 1440.5L312.2 1440.5"/>
<path class="td" d="M294.5 1422.5L294.5 1429.3"/>
<path class="td" d="M294.5 1451.7L294.5 1458.5"/>
<path class="t" d="M290.1 1440.5L291.2 1440.5"/>
<path class="t" d="M297.2 1440.5L298.3 1440.5"/>
<path class="t" d="M294.5 1436.4L294.5 1437.5"/>
<path class="t" d="M294.5 1443.5L294.5 1444.6"/>
<path class="t" d="M292.9 1440.5L295.5 1440.5"/>
<path class="t" d="M294.5 1439.2L294.5 1441.8"/>
<circle class="k" cx="79.7" cy="1682.2" r="10.4" style="stroke-width:1.6"/>
<circle class="k" cx="79.7" cy="1682.2" r="5.9" style="stroke-width:1.6"/>
<path class="td" d="M61.7 1682.5L68.5 1682.5"/>
<path class="td" d="M90.9 1682.5L97.7 1682.5"/>
<path class="td" d="M79.5 1664.2L79.5 1671"/>
<path class="td" d="M79.5 1693.4L79.5 1700.2"/>
<path class="t" d="M75.6 1682.5L76.7 1682.5"/>
<path class="t" d="M82.7 1682.5L83.8 1682.5"/>
<path class="t" d="M79.5 1678.1L79.5 1679.2"/>
<path class="t" d="M79.5 1685.2L79.5 1686.3"/>
<path class="t" d="M78.4 1682.5L81 1682.5"/>
<path class="t" d="M79.5 1680.9L79.5 1683.5"/>
<circle class="k" cx="294.5" cy="1682.2" r="10.4" style="stroke-width:1.6"/>
<circle class="k" cx="294.5" cy="1682.2" r="5.9" style="stroke-width:1.6"/>
<path class="td" d="M276.5 1682.5L283.3 1682.5"/>
<path class="td" d="M305.7 1682.5L312.5 1682.5"/>
<path class="td" d="M294.5 1664.2L294.5 1671"/>
<path class="td" d="M294.5 1693.4L294.5 1700.2"/>
<path class="t" d="M290.4 1682.5L291.5 1682.5"/>
<path class="t" d="M297.5 1682.5L298.6 1682.5"/>
<path class="t" d="M294.5 1678.1L294.5 1679.2"/>
<path class="t" d="M294.5 1685.2L294.5 1686.3"/>
<path class="t" d="M293.2 1682.5L295.8 1682.5"/>
<path class="t" d="M294.5 1680.9L294.5 1683.5"/>
<rect class="k" x="101.2" y="1441.7" width="19.3" height="19.1" rx="2"/>
<text class="d sb" transform="translate(110.85 1456.98) scale(.88 1)" font-size="13.37" text-anchor="middle">S<tspan font-size="9.89">2</tspan></text>
<rect class="k" x="253.8" y="1441.7" width="19.5" height="19.1" rx="2"/>
<text class="d sb" transform="translate(263.55 1456.98) scale(.88 1)" font-size="13.37" text-anchor="middle">S<tspan font-size="9.89">1</tspan></text>
<path class="k" d="M167.5 1458L167.5 1429.2L173.3 1429.2L173.3 1458M200.5 1458L200.5 1429.2L206.3 1429.2L206.3 1458"/>
<rect class="k" x="167.5" y="1458" width="38.8" height="24"/>
<rect class="k" x="175.8" y="1466.7" width="22.5" height="10"/>
<text class="d sb" transform="translate(236.8 1502.6) scale(.8 1)" font-size="23">P<tspan font-size="19.32">2</tspan></text>
<path class="k" d="M172.5 1493.6V1502A60 60 0 0 0 134.2 1533.3H107.8V1589.7H120V1595.8H138.3A60 60 0 0 0 172.5 1620V1629.4H202V1620A60 60 0 0 0 236 1595.8H254V1589.7H266.4V1533.3H240A60 60 0 0 0 202 1502V1493.6Z"/>
<path class="c" d="M187.5 1373L187.5 1733"/>
<path class="c" d="M51.7 1561.5L323 1561.5"/>
<text class="ol ol1" x="295.9" y="1591.1" font-size="15.09" textLength="60.6" lengthAdjust="spacingAndGlyphs" transform="rotate(-90 295.9 1591.1)">DELIXI</text>
<text class="ol ol2" x="295.9" y="1591.1" font-size="15.09" textLength="60.6" lengthAdjust="spacingAndGlyphs" transform="rotate(-90 295.9 1591.1)">DELIXI</text>
<rect class="k" x="133" y="1651.3" width="108.5" height="32"/>
<text class="lb" x="136.06" y="1661.11" font-size="8.68" textLength="54.04" lengthAdjust="spacingAndGlyphs">LMK(BH)-0.66</text>
<text class="lb" x="200.99" y="1659.86" font-size="6.81" textLength="36.08" lengthAdjust="spacingAndGlyphs">电流互感器</text>
<text class="lb" x="138.96" y="1671.8" font-size="9.7" textLength="47.57" lengthAdjust="spacingAndGlyphs">60<tspan font-size="8.34">型导轨式</tspan></text>
<ellipse class="t3" cx="198.44" cy="1663.96" rx="4.94" ry="2.21"/>
<text class="lbb" x="195.89" y="1665.47" font-size="3.91" textLength="5.28" lengthAdjust="spacingAndGlyphs">MC</text>
<text class="lbb" x="204.82" y="1666.63" font-size="4.77" textLength="33.19" lengthAdjust="spacingAndGlyphs">浙制03620196号</text>
<text class="lbb" x="192.06" y="1673.05" font-size="5.11" textLength="45.95" lengthAdjust="spacingAndGlyphs">符合标准GB20840.1&amp;2</text>
<text class="lbs" x="134.11" y="1681.07" font-size="7.06" textLength="28.68" lengthAdjust="spacingAndGlyphs">DELIXI</text>
<text class="lbb" x="165.93" y="1681.25" font-size="6.64" textLength="73.44" lengthAdjust="spacingAndGlyphs">德力西集团仪器仪表有限公司</text>
<path class="k" d="M118.8 1705.3L118.8 1726L255.4 1726L255.4 1705.3"/>
<path class="k" d="M168.3 1726L168.3 1720.3L163.3 1720.3L163.3 1713.5L212 1713.5L212 1720.3L206.7 1720.3L206.7 1726"/>
<path class="k2" d="M168.3 1713.5L168.3 1720.3"/>
<path class="k2" d="M206.7 1713.5L206.7 1720.3"/>
<path class="t" d="M132.5 1365.5L241.3 1365.5"/>
<path class="a" d="M132.5 1365.5L138.1 1364.29L138.1 1366.71Z"/>
<path class="a" d="M241.3 1365.5L235.7 1366.71L235.7 1364.29Z"/>
<text class="d" font-size="10" text-anchor="middle" transform="translate(187.5 1362.6) scale(0.86 1)">42</text>
<path class="t" d="M30.7 1372.5L115.5 1372.5"/>
<path class="t" d="M30.7 1726.5L118.8 1726.5"/>
<path class="t" d="M34.5 1372.8L34.5 1726"/>
<path class="a" d="M34.5 1372.8L35.72 1378.4L33.28 1378.4Z"/>
<path class="a" d="M34.5 1726L33.28 1720.4L35.72 1720.4Z"/>
<text class="d" font-size="10" text-anchor="middle" transform="translate(32 1550) rotate(-90) scale(0.86 1)">133.5<tspan font-size="6.5">max</tspan></text>
<path class="t" d="M107.8 1555.5L266.4 1555.5"/>
<path class="a" d="M107.8 1555.5L113.4 1554.29L113.4 1556.71Z"/>
<path class="a" d="M266.4 1555.5L260.8 1556.71L260.8 1554.29Z"/>
<text class="d" font-size="10" text-anchor="middle" transform="translate(187.5 1552.6) scale(0.86 1)">61.5<tspan font-size="6.5">min</tspan></text>
<path class="t" d="M266.4 1533.5L343 1533.5"/>
<path class="t" d="M266.4 1590.5L343 1590.5"/>
<path class="t" d="M340.5 1533.3L340.5 1590"/>
<path class="a" d="M340.5 1533.3L341.71 1538.9L339.29 1538.9Z"/>
<path class="a" d="M340.5 1590L339.29 1584.4L341.71 1584.4Z"/>
<text class="d" font-size="10" text-anchor="middle" transform="translate(337.5 1561) rotate(-90) scale(0.86 1)">21<tspan font-size="6.5">min</tspan></text>
<path class="t" d="M118.5 1726L118.5 1743.9"/>
<path class="t" d="M255.5 1726L255.5 1743.9"/>
<path class="t" d="M118.8 1740.5L255.4 1740.5"/>
<path class="a" d="M118.8 1740.5L124.4 1739.29L124.4 1741.71Z"/>
<path class="a" d="M255.4 1740.5L249.8 1741.71L249.8 1739.29Z"/>
<text class="d" font-size="10" text-anchor="middle" transform="translate(187.5 1738.1) scale(0.86 1)">53.2</text>
<path class="t" d="M57.5 1705.3L57.5 1758.8"/>
<path class="t" d="M317.5 1705.3L317.5 1758.8"/>
<path class="t" d="M57 1755.5L317.2 1755.5"/>
<path class="a" d="M57 1755.5L62.6 1754.29L62.6 1756.71Z"/>
<path class="a" d="M317.2 1755.5L311.6 1756.71L311.6 1754.29Z"/>
<text class="d" font-size="10" text-anchor="middle" transform="translate(187.5 1753) scale(0.86 1)">102.5<tspan font-size="6.5">max</tspan></text>
</g>
<g class="sv s30">
<path class="k" d="M540.6 210.6L540.6 291.3"/>
<path class="k" d="M655 210.6L655 291.3"/>
<path class="k" d="M540.6 219.6L655 219.6"/>
<path class="k" d="M540.6 244.6L655 244.6"/>
<path class="k" d="M540.6 271.3L655 271.3"/>
<path class="k2" d="M540.6 274.4L655 274.4"/>
<path class="k" d="M540.6 277.9L655 277.9"/>
<path class="c" d="M530 253.5L662 253.5"/>
<path class="kw" d="M540.6 158L512.5 172.7L512.5 199.6L540.6 199.6"/>
<rect class="k2" x="512.5" y="173.5" width="28.1" height="5.6" style="fill:url(#hx)"/>
<rect class="kw2" x="518.12" y="174.1" width="16.3" height="4.4"/>
<rect class="k2" x="512.5" y="194" width="28.1" height="5.6" style="fill:url(#hx)"/>
<rect class="kw2" x="518.12" y="194.6" width="16.3" height="4.4"/>
<path class="c2" d="M526.5 166.7L526.5 205.6"/>
<path class="kw" d="M655 158L684.4 172.7L684.4 199.6L655 199.6"/>
<rect class="k2" x="655" y="173.5" width="29.4" height="5.6" style="fill:url(#hx)"/>
<rect class="kw2" x="660.88" y="174.1" width="17.05" height="4.4"/>
<rect class="k2" x="655" y="194" width="29.4" height="5.6" style="fill:url(#hx)"/>
<rect class="kw2" x="660.88" y="194.6" width="17.05" height="4.4"/>
<path class="c2" d="M669.5 166.7L669.5 205.6"/>
<rect class="k" x="548.7" y="96.4" width="98.5" height="47.4" style="fill:url(#hx)"/>
<rect class="kw" x="553.1" y="96.4" width="89.7" height="26.9"/>
<rect class="kw" x="554" y="131.1" width="87.6" height="12.7"/>
<rect class="kw" x="558" y="134.8" width="80" height="9"/>
<rect class="k" x="540.6" y="143.8" width="114.4" height="66.8" style="fill:url(#hx)"/>
<rect class="kw" x="547.5" y="150.2" width="100.9" height="7.3"/>
<rect class="kw" x="547.5" y="164" width="100.9" height="43.4"/>
<rect class="kw" x="559.2" y="164" width="79.5" height="43.4"/>
<rect class="k" x="559.2" y="167.8" width="79.5" height="35.5" style="fill:url(#hg)"/>
<rect class="kw" x="568.2" y="175.1" width="61.7" height="20.9"/>
<path class="t2" d="M579.92 178.5L618.18 178.5"/>
<path class="t2" d="M592.26 182.5L605.84 182.5"/>
<path class="t2" d="M595.35 185.5L602.75 185.5"/>
<path class="t2" d="M588.56 188.5L609.54 188.5"/>
<path class="t2" d="M579.92 192.5L618.18 192.5"/>
<path class="kw" d="M588.3 122.6L588.3 105.2Q588.3 103 590.5 103L596.45 103L596.45 105.2L599.65 105.2L599.65 103L605.6 103Q607.8 103 607.8 105.2L607.8 122.6Z"/>
<circle class="k" cx="597.6" cy="116.3" r="3.2"/>
<rect class="kw" x="592.2" y="122.6" width="11.5" height="28.1"/>
<rect class="kw" x="584.9" y="150.2" width="25.4" height="10.8"/>
<rect class="k2" x="592.7" y="155.3" width="10.5" height="4.5"/>
<path class="k2" d="M584.9 155.8L610.3 155.8"/>
<rect class="k" x="540.6" y="291.3" width="114.4" height="70.9" style="fill:url(#hx)"/>
<rect class="kw" x="547.5" y="294.3" width="100.9" height="63.1"/>
<rect class="kw" x="559.2" y="294.3" width="79.5" height="44.7"/>
<rect class="k" x="559.2" y="304" width="79.5" height="35" style="fill:url(#hg)"/>
<rect class="kw" x="568.2" y="311.4" width="61.7" height="21"/>
<path class="t2" d="M579.92 315.5L618.18 315.5"/>
<path class="t2" d="M592.26 318.5L605.84 318.5"/>
<path class="t2" d="M595.35 321.5L602.75 321.5"/>
<path class="t2" d="M588.56 325.5L609.54 325.5"/>
<path class="t2" d="M579.92 329.5L618.18 329.5"/>
<path class="k" d="M518.8 362.2L675 362.2L675 387.4L664 387.4L664 373.2L518.8 373.2Z" style="fill:url(#hx)"/>
<rect x="598.4" y="359.7" width="55.7" height="4.5" style="fill:url(#hx);stroke:none"/>
<path class="k" d="M541.1 362.2L597.6 362.2L597.6 359"/>
<rect class="kw" x="656.2" y="378" width="7.8" height="9.4"/>
<path class="kw" d="M519.3 373.2L499.8 373.2Q498.6 373.2 498.6 374.4L498.6 386.2Q498.6 387.4 499.8 387.4L555.73 387.4L559.7 377.74L555.42 377.74L554.2 373.2" style="stroke-width:1.7"/>
<path class="k3" d="M501.66 383.14L553.59 383.14"/>
<path class="k3" d="M506.97 373.91L506.97 383.14"/>
<path class="k3" d="M516.2 373.91L516.2 383.14"/>
<path class="k3" d="M542.1 373.91L542.1 383.14"/>
<path class="k3" d="M546.14 373.91L546.14 383.14"/>
<path class="c2" d="M501.5 374.62L501.5 385.98"/>
<path class="t" d="M529.5 373.2L529.5 387.4"/>
<path class="k3" d="M550.9 373.91L550.9 380.58L555.42 380.58"/>
<rect class="t3" x="516.93" y="383.42" width="37.88" height="3.27" style="fill:url(#hx2)"/>
<path class="t3" d="M505.93 385.27L515.71 385.27"/>
<path class="t" d="M512.5 88.5L512.5 172.7"/>
<path class="t" d="M684.5 88.5L684.5 172.7"/>
<path class="t" d="M512.5 91.5L684.4 91.5"/>
<path class="a" d="M512.5 91.5L519.5 90.15L519.5 92.85Z"/>
<path class="a" d="M684.4 91.5L677.4 92.85L677.4 90.15Z"/>
<text class="d" font-size="11.6" text-anchor="middle" transform="translate(597.6 88.9) scale(0.86 1)">54</text>
<path class="t" d="M540.5 362.2L540.5 392.6"/>
<path class="t" d="M655.5 362.2L655.5 392.6"/>
<path class="t" d="M540.6 389.5L655 389.5"/>
<path class="a" d="M540.6 389.5L547.6 388.15L547.6 390.85Z"/>
<path class="a" d="M655 389.5L648 390.85L648 388.15Z"/>
<text class="d" font-size="11.6" text-anchor="middle" transform="translate(603.7 386.6) scale(0.86 1)">36</text>
<path class="t" d="M518.5 373.2L518.5 408.5"/>
<path class="t" d="M675.5 387.4L675.5 408.5"/>
<path class="t" d="M518.8 405.5L675 405.5"/>
<path class="a" d="M518.8 405.5L525.8 404.15L525.8 406.85Z"/>
<path class="a" d="M675 405.5L668 406.85L668 404.15Z"/>
<text class="d" font-size="11.6" text-anchor="middle" transform="translate(607 402.8) scale(0.86 1)">49.1</text>
</g>
<g class="sv s40">
<path class="k" d="M530.6 618.1L530.6 746.3"/>
<path class="k" d="M647.5 618.1L647.5 746.3"/>
<path class="k" d="M530.6 635.7L647.5 635.7"/>
<path class="k" d="M530.6 640.1L647.5 640.1"/>
<path class="k" d="M530.6 662.2L647.5 662.2"/>
<path class="k" d="M530.6 665.3L647.5 665.3"/>
<path class="k" d="M530.6 699.3L647.5 699.3"/>
<path class="k" d="M530.6 702.5L647.5 702.5"/>
<path class="k" d="M530.6 725.7L647.5 725.7"/>
<path class="k" d="M530.6 729.2L647.5 729.2"/>
<path class="c" d="M523.5 682.5L656.5 682.5"/>
<path class="kw" d="M530.6 572.4L505.2 586.4L505.2 607.9L530.6 607.9"/>
<rect class="k2" x="505.2" y="587.2" width="25.4" height="4.8" style="fill:url(#hx)"/>
<rect class="kw2" x="510.28" y="587.8" width="14.73" height="3.6"/>
<rect class="k2" x="505.2" y="603.1" width="25.4" height="4.8" style="fill:url(#hx)"/>
<rect class="kw2" x="510.28" y="603.7" width="14.73" height="3.6"/>
<path class="kw" d="M647.5 572.4L671.4 586.4L671.4 607.9L647.5 607.9"/>
<rect class="k2" x="647.5" y="587.2" width="23.9" height="4.8" style="fill:url(#hx)"/>
<rect class="kw2" x="652.28" y="587.8" width="13.86" height="3.6"/>
<rect class="k2" x="647.5" y="603.1" width="23.9" height="4.8" style="fill:url(#hx)"/>
<rect class="kw2" x="652.28" y="603.7" width="13.86" height="3.6"/>
<rect class="k" x="543.6" y="504" width="91.2" height="43.2" style="fill:url(#hx)"/>
<rect class="kw" x="548.6" y="504" width="81.2" height="25"/>
<rect class="kw" x="553.3" y="538.2" width="71" height="8.3"/>
<rect class="k" x="541.1" y="547.2" width="95.4" height="13" style="fill:url(#hx)"/>
<rect class="k" x="530.6" y="560.2" width="116.9" height="57.9" style="fill:url(#hx)"/>
<rect class="kw" x="549.2" y="552.9" width="79.9" height="6.6"/>
<rect class="kw" x="536.7" y="565.6" width="104.7" height="48.4"/>
<rect class="k" x="539.9" y="574.1" width="98.5" height="37.9" style="fill:url(#hg)"/>
<rect class="kw" x="548.5" y="582.7" width="81.1" height="19.5"/>
<path class="t2" d="M563.91 586.5L614.19 586.5"/>
<path class="t2" d="M580.13 589.5L597.97 589.5"/>
<path class="t2" d="M584.18 592.5L593.92 592.5"/>
<path class="t2" d="M575.26 595.5L602.84 595.5"/>
<path class="t2" d="M563.91 599.5L614.19 599.5"/>
<path class="kw" d="M579.8 527.7L579.8 512.8Q579.8 510.6 582 510.6L587.6 510.6L587.6 512.8L590.8 512.8L590.8 510.6L596.4 510.6Q598.6 510.6 598.6 512.8L598.6 527.7Z"/>
<circle class="k" cx="589.3" cy="522.8" r="3.2"/>
<rect class="kw" x="583.9" y="527.7" width="10.5" height="25.6"/>
<rect class="kw" x="577.3" y="552.9" width="24.2" height="9.1"/>
<rect class="k2" x="584.4" y="557.15" width="9.5" height="3.65"/>
<path class="k2" d="M577.3 557.65L601.5 557.65"/>
<rect class="k" x="530.6" y="746.3" width="116.9" height="58.2" style="fill:url(#hx)"/>
<rect class="kw" x="536.7" y="750.7" width="104.7" height="47.7"/>
<rect class="k" x="539.9" y="753.1" width="98.5" height="37.9" style="fill:url(#hg)"/>
<rect class="kw" x="548.5" y="762.4" width="81.1" height="18.8"/>
<path class="t2" d="M563.91 765.5L614.19 765.5"/>
<path class="t2" d="M580.13 769.5L597.97 769.5"/>
<path class="t2" d="M584.18 771.5L593.92 771.5"/>
<path class="t2" d="M575.26 774.5L602.84 774.5"/>
<path class="t2" d="M563.91 778.5L614.19 778.5"/>
<path class="k" d="M516.7 804.5L661.7 804.5L661.7 827.7L651.9 827.7L651.9 814.3L516.7 814.3Z" style="fill:url(#hx)"/>
<rect x="590.1" y="802" width="56.5" height="4.5" style="fill:url(#hx);stroke:none"/>
<path class="k" d="M531.1 804.5L589.3 804.5L589.3 801.3"/>
<rect class="kw" x="641.9" y="817.9" width="10" height="9.8"/>
<path class="kw" d="M517.2 814.3L500 814.3Q498.8 814.3 498.8 815.5L498.8 827.2Q498.8 828.4 500 828.4L550.97 828.4L554.6 818.81L550.69 818.81L549.58 814.3" style="stroke-width:1.7"/>
<path class="k3" d="M501.59 824.17L549.02 824.17"/>
<path class="k3" d="M506.44 815L506.44 824.17"/>
<path class="k3" d="M514.87 815L514.87 824.17"/>
<path class="k3" d="M538.53 815L538.53 824.17"/>
<path class="k3" d="M542.21 815L542.21 824.17"/>
<path class="c2" d="M501.5 815.71L501.5 826.99"/>
<path class="t" d="M527.5 814.3L527.5 828.4"/>
<path class="k3" d="M546.56 815L546.56 821.63L550.69 821.63"/>
<rect class="t3" x="515.54" y="824.45" width="34.6" height="3.24" style="fill:url(#hx2)"/>
<path class="t3" d="M505.5 826.28L514.42 826.28"/>
<path class="t" d="M505.5 494.8L505.5 586.4"/>
<path class="t" d="M671.5 494.8L671.5 586.4"/>
<path class="t" d="M505.2 497.5L671.4 497.5"/>
<path class="a" d="M505.2 497.5L511.64 496.2L511.64 498.8Z"/>
<path class="a" d="M671.4 497.5L664.96 498.8L664.96 496.2Z"/>
<text class="d" font-size="10.8" text-anchor="middle" transform="translate(589.3 495.2) scale(0.86 1)">58</text>
<path class="t" d="M530.5 804.5L530.5 842.2"/>
<path class="t" d="M647.5 804.5L647.5 842.2"/>
<path class="t" d="M530.6 839.5L647.5 839.5"/>
<path class="a" d="M530.6 839.5L537.04 838.2L537.04 840.8Z"/>
<path class="a" d="M647.5 839.5L641.06 840.8L641.06 838.2Z"/>
<text class="d" font-size="10.8" text-anchor="middle" transform="translate(589.3 836.3) scale(0.86 1)">40</text>
<path class="t" d="M516.5 814.3L516.5 855.9"/>
<path class="t" d="M661.5 827.7L661.5 855.9"/>
<path class="t" d="M516.7 852.5L661.7 852.5"/>
<path class="a" d="M516.7 852.5L523.14 851.2L523.14 853.8Z"/>
<path class="a" d="M661.7 852.5L655.26 853.8L655.26 851.2Z"/>
<text class="d" font-size="10.8" text-anchor="middle" transform="translate(589.3 849.9) scale(0.86 1)">49.5</text>
</g>
<g class="sv s50">
<path class="k" d="M530.1 1056.4L530.1 1178.2"/>
<path class="k" d="M643.3 1056.4L643.3 1178.2"/>
<path class="k" d="M530.1 1072.8L643.3 1072.8"/>
<path class="k" d="M530.1 1076.5L643.3 1076.5"/>
<path class="k" d="M530.1 1097.3L643.3 1097.3"/>
<path class="k" d="M530.1 1100.9L643.3 1100.9"/>
<path class="k" d="M530.1 1133L643.3 1133"/>
<path class="k" d="M530.1 1136.2L643.3 1136.2"/>
<path class="k" d="M530.1 1158.2L643.3 1158.2"/>
<path class="k" d="M530.1 1161.6L643.3 1161.6"/>
<path class="c" d="M522 1117.5L651 1117.5"/>
<path class="kw" d="M530.1 1012.4L505.2 1026.4L505.2 1045.9L530.1 1045.9"/>
<rect class="k2" x="505.2" y="1027.2" width="24.9" height="4.6" style="fill:url(#hx)"/>
<rect class="kw2" x="510.18" y="1027.8" width="14.44" height="3.4"/>
<rect class="k2" x="505.2" y="1041.3" width="24.9" height="4.6" style="fill:url(#hx)"/>
<rect class="kw2" x="510.18" y="1041.9" width="14.44" height="3.4"/>
<path class="kw" d="M643.3 1012.4L668.3 1026.4L668.3 1045.9L643.3 1045.9"/>
<rect class="k2" x="643.3" y="1027.2" width="25" height="4.6" style="fill:url(#hx)"/>
<rect class="kw2" x="648.3" y="1027.8" width="14.5" height="3.4"/>
<rect class="k2" x="643.3" y="1041.3" width="25" height="4.6" style="fill:url(#hx)"/>
<rect class="kw2" x="648.3" y="1041.9" width="14.5" height="3.4"/>
<rect class="k" x="542.8" y="945" width="87.6" height="42.2" style="fill:url(#hx)"/>
<rect class="kw" x="547.8" y="945" width="77.6" height="24.6"/>
<rect class="kw" x="552.6" y="978.7" width="68.5" height="7.8"/>
<rect class="k" x="541.1" y="987.2" width="90.5" height="13" style="fill:url(#hx)"/>
<rect class="k" x="530.1" y="1000.2" width="113.2" height="56.2" style="fill:url(#hx)"/>
<rect class="kw" x="548.5" y="993.3" width="76.2" height="6.2"/>
<rect class="kw" x="535.7" y="1005.6" width="100.8" height="45.9"/>
<rect class="kw" x="541.1" y="1011" width="89.3" height="40.5"/>
<rect class="k" x="541.1" y="1011" width="89.3" height="21" style="fill:url(#hg2)"/>
<rect class="kw" x="544.5" y="1014" width="83" height="16"/>
<path class="t2" d="M560.27 1016.5L611.73 1016.5"/>
<path class="t2" d="M576.87 1019.5L595.13 1019.5"/>
<path class="t2" d="M581.02 1022.5L590.98 1022.5"/>
<path class="t2" d="M571.89 1024.5L600.11 1024.5"/>
<path class="t2" d="M560.27 1027.5L611.73 1027.5"/>
<path class="kw" d="M577.8 967.7L577.8 953.5Q577.8 951.3 580 951.3L585 951.3L585 953.5L588.2 953.5L588.2 951.3L593.2 951.3Q595.4 951.3 595.4 953.5L595.4 967.7Z"/>
<circle class="k" cx="586.4" cy="963.5" r="3.2"/>
<rect class="kw" x="582.2" y="967.7" width="9.8" height="25.6"/>
<rect class="kw" x="574.9" y="992.9" width="23.7" height="9"/>
<rect class="k2" x="582.7" y="997.1" width="8.8" height="3.6"/>
<path class="k2" d="M574.9 997.6L598.6 997.6"/>
<rect class="k" x="530.1" y="1178.2" width="113.2" height="56.3" style="fill:url(#hx)"/>
<rect class="kw" x="535.7" y="1183.1" width="100.8" height="46"/>
<rect class="kw" x="541.1" y="1183.1" width="90" height="41.6"/>
<rect class="k" x="541.1" y="1201.5" width="90" height="23.2" style="fill:url(#hg2)"/>
<rect class="kw" x="544.5" y="1203.9" width="83.5" height="17.1"/>
<path class="t2" d="M560.37 1206.5L612.13 1206.5"/>
<path class="t2" d="M577.07 1210.5L595.43 1210.5"/>
<path class="t2" d="M581.24 1212.5L591.26 1212.5"/>
<path class="t2" d="M572.05 1215.5L600.45 1215.5"/>
<path class="t2" d="M560.37 1218.5L612.13 1218.5"/>
<path class="k" d="M516.7 1234.5L655.6 1234.5L655.6 1257.2L647.5 1257.2L647.5 1244.3L516.7 1244.3Z" style="fill:url(#hx)"/>
<rect x="587.2" y="1232" width="55.2" height="4.5" style="fill:url(#hx);stroke:none"/>
<path class="k" d="M530.6 1234.5L586.4 1234.5L586.4 1231.3"/>
<rect class="kw" x="637.7" y="1248.7" width="9.8" height="8.5"/>
<path class="kw" d="M517.2 1244.3L500 1244.3Q498.8 1244.3 498.8 1245.5L498.8 1257.2Q498.8 1258.4 500 1258.4L550.51 1258.4L554.1 1248.81L550.23 1248.81L549.12 1244.3" style="stroke-width:1.7"/>
<path class="k3" d="M501.56 1254.17L548.57 1254.17"/>
<path class="k3" d="M506.38 1245L506.38 1254.17"/>
<path class="k3" d="M514.73 1245L514.73 1254.17"/>
<path class="k3" d="M538.17 1245L538.17 1254.17"/>
<path class="k3" d="M541.82 1245L541.82 1254.17"/>
<path class="c2" d="M501.5 1245.71L501.5 1256.99"/>
<path class="t" d="M527.5 1244.3L527.5 1258.4"/>
<path class="k3" d="M546.14 1245L546.14 1251.63L550.23 1251.63"/>
<rect class="t3" x="515.39" y="1254.45" width="34.29" height="3.24" style="fill:url(#hx2)"/>
<path class="t3" d="M505.44 1256.29L514.28 1256.29"/>
<path class="t" d="M505.5 936L505.5 1026.4"/>
<path class="t" d="M668.5 936L668.5 1026.4"/>
<path class="t" d="M505.2 939.5L668.3 939.5"/>
<path class="a" d="M505.2 939.5L511.36 938.23L511.36 940.77Z"/>
<path class="a" d="M668.3 939.5L662.14 940.77L662.14 938.23Z"/>
<text class="d" font-size="10.3" text-anchor="middle" transform="translate(586.4 936.4) scale(0.86 1)">58</text>
<path class="t" d="M530.5 1234.5L530.5 1271.7"/>
<path class="t" d="M643.5 1234.5L643.5 1271.7"/>
<path class="t" d="M530.1 1268.5L643.3 1268.5"/>
<path class="a" d="M530.1 1268.5L536.26 1267.23L536.26 1269.77Z"/>
<path class="a" d="M643.3 1268.5L637.14 1269.77L637.14 1267.23Z"/>
<text class="d" font-size="10.3" text-anchor="middle" transform="translate(590 1265.8) scale(0.86 1)">40</text>
<path class="t" d="M516.5 1244.3L516.5 1285.2"/>
<path class="t" d="M655.5 1257.2L655.5 1285.2"/>
<path class="t" d="M516.7 1282.5L655.6 1282.5"/>
<path class="a" d="M516.7 1282.5L522.86 1281.23L522.86 1283.77Z"/>
<path class="a" d="M655.6 1282.5L649.44 1283.77L649.44 1281.23Z"/>
<text class="d" font-size="10.3" text-anchor="middle" transform="translate(586.5 1279.3) scale(0.86 1)">49.5</text>
</g>
<g class="sv s60">
<path class="k" d="M527.2 1501.6L527.2 1633.5"/>
<path class="k" d="M629.9 1501.6L629.9 1633.5"/>
<path class="k" d="M527.2 1508.5L629.9 1508.5"/>
<path class="k" d="M527.2 1539.3L629.9 1539.3"/>
<path class="k" d="M527.2 1596.1L629.9 1596.1"/>
<path class="k" d="M527.2 1601.8L629.9 1601.8"/>
<path class="k" d="M527.2 1626.2L629.9 1626.2"/>
<path class="c" d="M515.5 1567.5L641.9 1567.5"/>
<path class="kw" d="M527.2 1435.6L504.4 1463.7L504.4 1488.1L527.2 1488.1"/>
<rect class="k2" x="504.4" y="1464.5" width="22.8" height="6" style="fill:url(#hx)"/>
<rect class="kw2" x="508.96" y="1465.1" width="13.22" height="4.8"/>
<rect class="k2" x="504.4" y="1482.1" width="22.8" height="6" style="fill:url(#hx)"/>
<rect class="kw2" x="508.96" y="1482.7" width="13.22" height="4.8"/>
<path class="kw" d="M629.9 1435.6L652.9 1463.7L652.9 1488.1L629.9 1488.1"/>
<rect class="k2" x="629.9" y="1464.5" width="23" height="6" style="fill:url(#hx)"/>
<rect class="kw2" x="634.5" y="1465.1" width="13.34" height="4.8"/>
<rect class="k2" x="629.9" y="1482.1" width="23" height="6" style="fill:url(#hx)"/>
<rect class="kw2" x="634.5" y="1482.7" width="13.34" height="4.8"/>
<rect class="k" x="538.7" y="1373.2" width="80.2" height="38.7" style="fill:url(#hx)"/>
<rect class="kw" x="542.7" y="1373.2" width="72.2" height="23.3"/>
<rect class="kw" x="548" y="1403.8" width="61.1" height="6.8"/>
<rect class="k" x="537.5" y="1411.9" width="82.6" height="11" style="fill:url(#hx)"/>
<rect class="k" x="527.2" y="1422.9" width="102.7" height="78.7" style="fill:url(#hx)"/>
<rect class="kw" x="542.3" y="1417.2" width="71.7" height="5.4"/>
<rect class="kw" x="532.6" y="1428.2" width="91.7" height="68"/>
<rect class="kw" x="546" y="1446.1" width="65.3" height="50.1"/>
<rect class="k" x="546" y="1446.1" width="65.3" height="29.1" style="fill:url(#hg2)"/>
<rect class="kw" x="549.7" y="1449.8" width="58.7" height="22"/>
<path class="t2" d="M560.85 1453.5L597.25 1453.5"/>
<path class="t2" d="M572.59 1457.5L585.51 1457.5"/>
<path class="t2" d="M575.53 1460.5L582.57 1460.5"/>
<path class="t2" d="M569.07 1464.5L589.03 1464.5"/>
<path class="t2" d="M560.85 1468.5L597.25 1468.5"/>
<path class="kw" d="M571 1395.2L571 1381.1Q571 1378.9 573.2 1378.9L577.45 1378.9L577.45 1381.1L580.65 1381.1L580.65 1378.9L584.9 1378.9Q587.1 1378.9 587.1 1381.1L587.1 1395.2Z"/>
<circle class="k" cx="578.5" cy="1390.3" r="3"/>
<rect class="kw" x="574.1" y="1395.2" width="9.1" height="22.3"/>
<rect class="kw" x="568" y="1417.2" width="21.3" height="7.4"/>
<rect class="k2" x="574.6" y="1420.6" width="8.1" height="2.8"/>
<path class="k2" d="M568 1421.1L589.3 1421.1"/>
<rect class="k" x="527.2" y="1633.5" width="102.7" height="78.5" style="fill:url(#hx)"/>
<rect class="kw" x="532.6" y="1638.4" width="91.7" height="67.5"/>
<rect class="kw" x="546" y="1638.4" width="65.3" height="49.2"/>
<rect class="k" x="546" y="1659.5" width="65.3" height="28.1" style="fill:url(#hg2)"/>
<rect class="kw" x="549.7" y="1662.6" width="58.7" height="22"/>
<path class="t2" d="M560.85 1666.5L597.25 1666.5"/>
<path class="t2" d="M572.59 1670.5L585.51 1670.5"/>
<path class="t2" d="M575.53 1673.5L582.57 1673.5"/>
<path class="t2" d="M569.07 1677.5L589.03 1677.5"/>
<path class="t2" d="M560.85 1681.5L597.25 1681.5"/>
<path class="k" d="M515 1712L641.4 1712L641.4 1731.6L634 1731.6L634 1720.1L515 1720.1Z" style="fill:url(#hx)"/>
<rect x="579.3" y="1709.5" width="49.7" height="4.5" style="fill:url(#hx);stroke:none"/>
<path class="k" d="M527.7 1712L578.5 1712L578.5 1708.8"/>
<rect class="kw" x="625.5" y="1724.2" width="8.5" height="7.4"/>
<path class="kw" d="M515.5 1720.1L500 1720.1Q498.8 1720.1 498.8 1721.3L498.8 1730.9Q498.8 1732.1 500 1732.1L544.8 1732.1L548 1723.94L544.56 1723.94L543.57 1720.1" style="stroke-width:1.7"/>
<path class="k3" d="M501.26 1728.5L543.08 1728.5"/>
<path class="k3" d="M505.54 1720.7L505.54 1728.5"/>
<path class="k3" d="M512.97 1720.7L512.97 1728.5"/>
<path class="k3" d="M533.83 1720.7L533.83 1728.5"/>
<path class="k3" d="M537.08 1720.7L537.08 1728.5"/>
<path class="c2" d="M501.5 1721.3L501.5 1730.9"/>
<path class="t" d="M523.5 1720.1L523.5 1732.1"/>
<path class="k3" d="M540.92 1720.7L540.92 1726.34L544.56 1726.34"/>
<rect class="t3" x="513.56" y="1728.74" width="30.5" height="2.76" style="fill:url(#hx2)"/>
<path class="t3" d="M504.7 1730.3L512.58 1730.3"/>
<path class="t" d="M504.5 1363.4L504.5 1463.7"/>
<path class="t" d="M652.5 1363.4L652.5 1463.7"/>
<path class="t" d="M504.4 1366.5L652.9 1366.5"/>
<path class="a" d="M504.4 1366.5L510 1365.29L510 1367.71Z"/>
<path class="a" d="M652.9 1366.5L647.3 1367.71L647.3 1365.29Z"/>
<text class="d" font-size="10" text-anchor="middle" transform="translate(578.5 1363.8) scale(0.86 1)">58.5</text>
<path class="t" d="M527.5 1712L527.5 1742.4"/>
<path class="t" d="M629.5 1712L629.5 1742.4"/>
<path class="t" d="M527.2 1739.5L629.9 1739.5"/>
<path class="a" d="M527.2 1739.5L532.8 1738.29L532.8 1740.71Z"/>
<path class="a" d="M629.9 1739.5L624.3 1740.71L624.3 1738.29Z"/>
<text class="d" font-size="10" text-anchor="middle" transform="translate(578.5 1736.6) scale(0.86 1)">40</text>
<path class="t" d="M515.5 1720.1L515.5 1755.4"/>
<path class="t" d="M641.5 1731.6L641.5 1755.4"/>
<path class="t" d="M515 1752.5L641.4 1752.5"/>
<path class="a" d="M515 1752.5L520.6 1751.29L520.6 1753.71Z"/>
<path class="a" d="M641.4 1752.5L635.8 1753.71L635.8 1751.29Z"/>
<text class="d" font-size="10" text-anchor="middle" transform="translate(578.5 1750) scale(0.86 1)">49.5</text>
</g>
</svg>
</body></html>
